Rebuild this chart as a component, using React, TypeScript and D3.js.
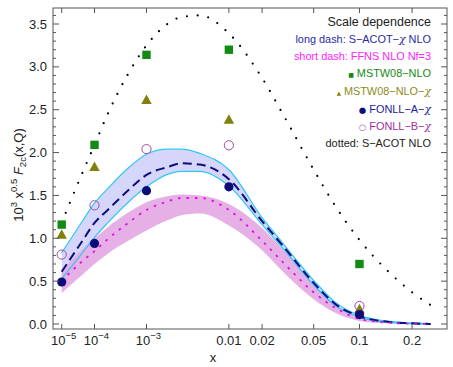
import React from 'react';
import * as d3 from 'd3';

// sample points in x shared by the curves
const xs = [1e-5, 2e-5, 5e-5, 1e-4, 2e-4, 5e-4, 1e-3, 2e-3, 3e-3, 5e-3, 0.01, 0.02, 0.03, 0.05, 0.07, 0.1, 0.15, 0.2, 0.25];

// S-ACOT-chi NLO scale band (long dash)
const sacotChiUpper = [0.83, 0.98, 1.21, 1.41, 1.58, 1.82, 1.98, 2.04, 2.04, 1.99, 1.80, 1.24, 0.93, 0.51, 0.255, 0.10, 0.03, 0.012, 0.004];
const sacotChiCentral = [0.61, 0.755, 0.98, 1.18, 1.33, 1.56, 1.74, 1.83, 1.875, 1.86, 1.69, 1.20, 0.90, 0.48, 0.235, 0.09, 0.024, 0.008, 0.0];
const sacotChiLower = [0.53, 0.65, 0.84, 1.01, 1.18, 1.42, 1.60, 1.745, 1.78, 1.78, 1.61, 1.16, 0.87, 0.455, 0.215, 0.08, 0.018, 0.004, -0.004];

// FFNS NLO Nf=3 scale band (short dash)
const ffnsUpper = [0.63, 0.73, 0.88, 1.00, 1.13, 1.30, 1.42, 1.49, 1.51, 1.50, 1.40, 1.12, 0.86, 0.46, 0.22, 0.075, 0.02, 0.006, 0.0];
const ffnsCentral = [0.50, 0.60, 0.74, 0.85, 0.99, 1.18, 1.33, 1.43, 1.47, 1.47, 1.33, 0.97, 0.71, 0.37, 0.19, 0.06, 0.015, 0.003, 0.0];
const ffnsLower = [0.36, 0.45, 0.58, 0.70, 0.82, 0.97, 1.09, 1.21, 1.27, 1.29, 1.15, 0.86, 0.60, 0.29, 0.13, 0.035, 0.005, -0.005, -0.01];

// S-ACOT NLO (dotted)
const sacotDotted = [1.18, 1.42, 1.78, 2.09, 2.45, 2.92, 3.25, 3.50, 3.58, 3.60, 3.39, 2.87, 2.43, 1.80, 1.38, 0.98, 0.60, 0.37, 0.22];

// benchmark points
const pointXs = [1e-5, 1e-4, 1e-3, 0.01, 0.1];
const mstwNlo = [1.16, 2.09, 3.14, 3.20, 0.70];
const mstwNloChi = [1.04, 1.83, 2.61, 2.38, 0.17];
const fonllA = [0.49, 0.94, 1.555, 1.60, 0.11];
const fonllB = [0.81, 1.385, 2.04, 2.085, 0.21];

// axis ticks
const xTicks = [1e-5, 1e-4, 1e-3, 0.01, 0.02, 0.05, 0.1, 0.2];
const xTickLabels = ['10|−5', '10|−4', '10|−3', '0.01', '0.02', '0.05', '0.1', '0.2'];
const yTicks = [0, 0.5, 1.0, 1.5, 2.0, 2.5, 3.0, 3.5];

const FONT = 'Liberation Sans, Arial, Helvetica, sans-serif';
const GLYPH = 'DejaVu Sans, sans-serif';

const App = () => {
  const left = 53, right = 447, top = 8, bottom = 329;
  const x = d3.scalePow().exponent(0.2).domain([1e-5, 0.2]).range([61.7, 412.1]);
  const y = d3.scaleLinear().domain([0, 3.5]).range([324, 24]);

  const rows = xs.map((v, i) => ({ x: v, i }));
  const area = (hi, lo) => d3.area()
    .x((d) => x(d.x)).y0((d) => y(lo[d.i])).y1((d) => y(hi[d.i]))
    .curve(d3.curveMonotoneX)(rows);
  const line = (vals) => d3.line()
    .x((d) => x(d.x)).y((d) => y(vals[d.i]))
    .curve(d3.curveMonotoneX)(rows);

  const minorY = d3.range(0, 3.65, 0.1).filter((v) => Math.abs(v * 2 - Math.round(v * 2)) > 0.01);
  const frame = '#555';

  const tri = (cx, cy, s) => `M${cx},${cy - s * 0.6}L${cx + s * 0.55},${cy + s * 0.4}L${cx - s * 0.55},${cy + s * 0.4}Z`;

  const legendX = 431;
  const chi = (col) => <tspan fontFamily="DejaVu Serif, serif" fontStyle="italic" fill={col}>χ</tspan>;
  const mark = (ch, col, size) => (
    <tspan fontFamily={GLYPH} fontSize={size} fill={col}>{ch}</tspan>
  );

  return (
    <svg width={453} height={367} style={{ position: 'absolute', left: 0, top: 0, background: '#fff' }} fontFamily={FONT}>
      {/* bands */}
      <path d={area(sacotChiUpper, sacotChiLower)} fill="#d6d6fa" />
      <path d={area(ffnsUpper, ffnsLower)} fill="#e6b0e6" />
      <path d={line(sacotChiUpper)} fill="none" stroke="#2ec8f5" strokeWidth={1.2} />
      <path d={line(sacotChiLower)} fill="none" stroke="#2ec8f5" strokeWidth={1.2} />
      <path d={line(sacotChiCentral)} fill="none" stroke="#0c0c80" strokeWidth={2} strokeDasharray="9 5" />
      <path d={line(ffnsCentral)} fill="none" stroke="#e010e0" strokeWidth={1.8} strokeDasharray="2.5 6" />
      <path d={line(sacotDotted)} fill="none" stroke="#000" strokeWidth={2.2} strokeLinecap="round" strokeDasharray="0 10.8" />

      {/* points */}
      {pointXs.map((px, i) => (
        <g key={i}>
          <rect x={x(px) - 4.2} y={y(mstwNlo[i]) - 4.2} width={8.4} height={8.4} fill="#138a13" />
          <path d={tri(x(px), y(mstwNloChi[i]), 9.5)} fill="#80800a" />
          <circle cx={x(px)} cy={y(fonllB[i])} r={4.6} fill="none" stroke="#a24aa8" strokeWidth={1} />
          <circle cx={x(px)} cy={y(fonllA[i])} r={4.6} fill="#0c0c78" />
        </g>
      ))}

      {/* frame */}
      <rect x={left} y={top} width={right - left} height={bottom - top} fill="none" stroke={frame} strokeWidth={1} />
      {xTicks.map((t) => (
        <g key={t} stroke={frame}>
          <line x1={x(t)} x2={x(t)} y1={bottom} y2={bottom - 5} />
          <line x1={x(t)} x2={x(t)} y1={top} y2={top + 5} />
        </g>
      ))}
      {yTicks.map((t) => (
        <g key={t} stroke={frame}>
          <line x1={left} x2={left + 6} y1={y(t)} y2={y(t)} />
          <line x1={right} x2={right - 6} y1={y(t)} y2={y(t)} />
        </g>
      ))}
      {minorY.map((t) => (
        <g key={t} stroke={frame}>
          <line x1={left} x2={left + 3} y1={y(t)} y2={y(t)} />
          <line x1={right} x2={right - 3} y1={y(t)} y2={y(t)} />
        </g>
      ))}

      {/* tick labels */}
      {yTicks.map((t) => (
        <text key={t} x={47} y={y(t) + 4.5} textAnchor="end" fontSize={13} fill="#222">{t.toFixed(1)}</text>
      ))}
      {xTicks.map((t, i) => {
        const [base, exp] = xTickLabels[i].split('|');
        return (
          <text key={t} x={x(t) + (exp ? 2 : 0)} y={345} textAnchor="middle" fontSize={13} fill="#222">
            {base}
            {exp && <tspan dy={-6} fontSize={9.5}>{exp}</tspan>}
          </text>
        );
      })}
      <text x={213} y={362} textAnchor="middle" fontSize={13} fill="#222">x</text>
      <text transform="translate(23,175) rotate(-90)" textAnchor="middle" fontSize={13} fill="#222">
        10<tspan dy={-6} fontSize={9.5}>3</tspan>
        <tspan dy={6}> x</tspan><tspan dy={-6} fontSize={9.5}>0.5</tspan>
        <tspan dy={6}> </tspan><tspan fontStyle="italic">F</tspan><tspan dy={3} fontSize={9.5}>2c</tspan>
        <tspan dy={-3}>(x,Q)</tspan>
      </text>

      {/* legend */}
      <g textAnchor="end" fontSize={10.9}>
        <text x={legendX} y={26} fontSize={12.5} fill="#222">Scale dependence</text>
        <text x={legendX} y={43} fill="#2a2aa8">long dash: S−ACOT−{chi('#2a2aa8')} NLO</text>
        <text x={legendX} y={60} fill="#ff22ff">short dash: FFNS NLO Nf=3</text>
        <text x={legendX} y={77} fill="#138a13">{mark('■', '#138a13', 6)}<tspan> MSTW08−NLO</tspan></text>
        <text x={legendX} y={94.5} fill="#8c8c1a">{mark('▲', '#80800a', 5.5)}<tspan> MSTW08−NLO−</tspan>{chi('#8c8c1a')}</text>
        <text x={legendX} y={112.5} fill="#20209a">{mark('●', '#0c0c78', 8.5)}<tspan> FONLL−A−</tspan>{chi('#20209a')}</text>
        <text x={legendX} y={130} fill="#a030a0">{mark('○', '#a24aa8', 8.5)}<tspan> FONLL−B−</tspan>{chi('#a030a0')}</text>
        <text x={legendX} y={147} fill="#222">dotted: S−ACOT NLO</text>
      </g>
    </svg>
  );
};

export default App;
